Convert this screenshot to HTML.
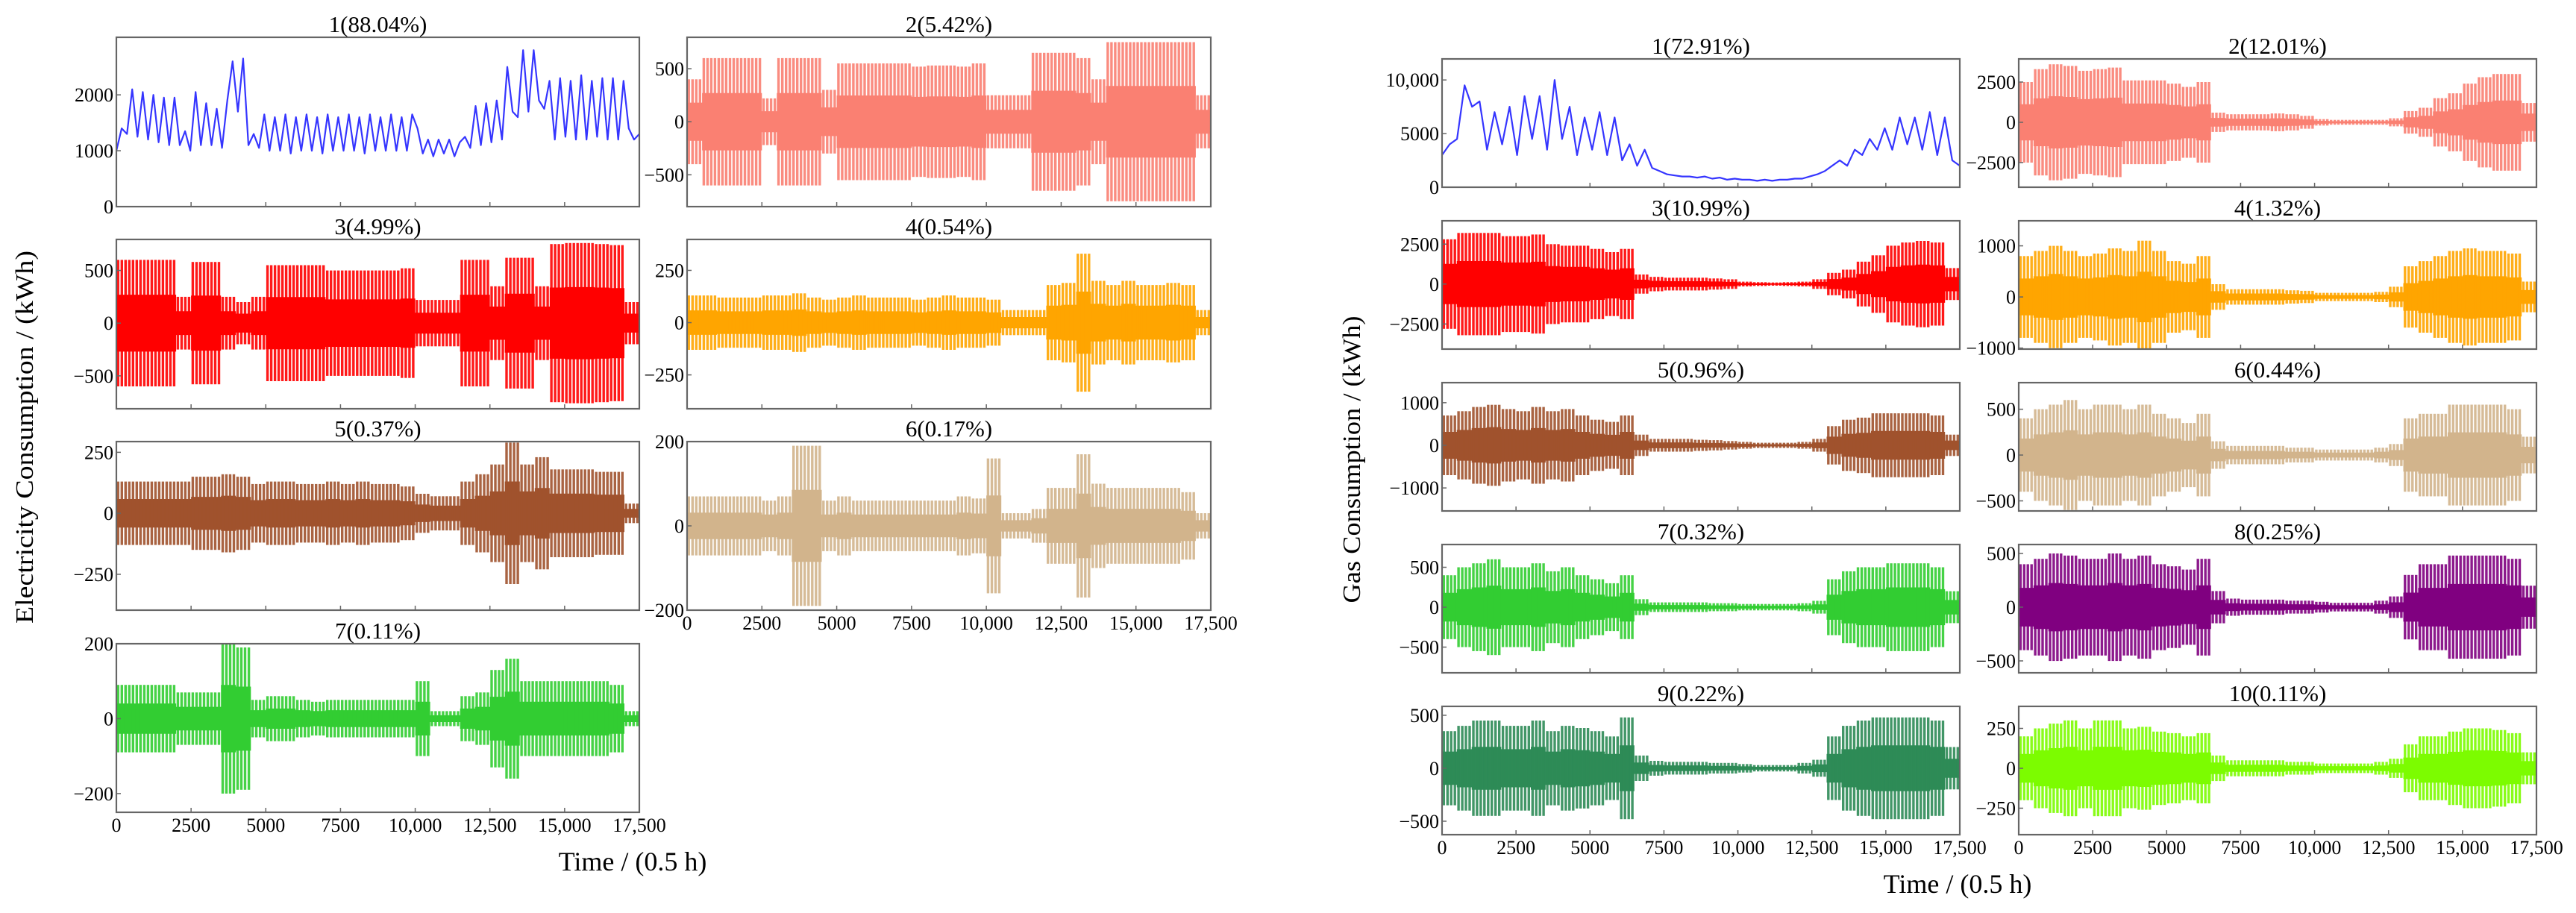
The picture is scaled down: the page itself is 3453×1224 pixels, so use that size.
<!DOCTYPE html>
<html><head><meta charset="utf-8"><title>Decomposition components</title>
<style>
html,body{margin:0;padding:0;background:#fff;}
svg{display:block;font-family:"Liberation Serif",serif;}
</style></head>
<body>
<svg id="fig" width="3453" height="1224" viewBox="0 0 3453 1224" xmlns="http://www.w3.org/2000/svg">
<rect x="0" y="0" width="3453" height="1224" fill="#fff"/>
<text x="0" y="0" transform="translate(44,586) rotate(-90)" text-anchor="middle" font-size="34" textLength="500" lengthAdjust="spacingAndGlyphs">Electricity Consumption / (kWh)</text>
<text x="848" y="1167" text-anchor="middle" font-size="36">Time / (0.5 h)</text>
<text x="0" y="0" transform="translate(1823,616) rotate(-90)" text-anchor="middle" font-size="34" textLength="385" lengthAdjust="spacingAndGlyphs">Gas Consumption / (kWh)</text>
<text x="2624" y="1197" text-anchor="middle" font-size="36">Time / (0.5 h)</text>
<g id="panels"></g>
</svg>
<script>
// ---- data ----
const xTicks = [0, 2500, 5000, 7500, 10000, 12500, 15000, 17500];
const xTickLabels = ["0", "2500", "5000", "7500", "10,000", "12,500", "15,000", "17,500"];
const binWidth = 500;

const elecTrend = [1000,1400,1300,2100,1250,2050,1200,2000,1150,1950,1100,1950,1100,1350,1000,2050,1100,
 1850,1100,1750,1050,1900, 2600,1700,2650, 1100,1300,1050,
 1650,1000,1600,1000,1650,950,1600,1000,1650,1000,1600,950,1650,1000,1600,1000,1650,1000,1600,950,1650,1000,1600,1000,1650,1000,1600,1000,1650,
 1400,950,1200,900,1200,950,1200,900,1150,
 1250,1050,1800,1100,1850,1150,1900, 1200,2500,1700,1600, 2800,1700,2800,1900,1750,
 2250,1200,2300,1250,2250,1200,2350,1200,2250,1250,2300,1200,2300,1200,2250, 1400,1200,1300];
const elec2 = [400,600,600,600,600,220,600,600,600,300,550,550,550,550,550,520,530,530,520,550,250,250,250,650,650,650,600,400,750,750,750,750,750,750,250];
const elec3 = [600,600,600,600,250,580,580,250,200,250,550,550,550,550,500,500,500,500,500,520,220,220,220,600,600,350,620,620,350,750,760,760,750,740,200];
const elec4 = [130,130,120,120,120,130,130,140,120,110,120,130,120,120,120,110,120,130,120,120,110,60,60,60,180,190,330,200,180,200,180,180,190,180,60];
const elec5 = [130,130,130,130,130,150,150,160,150,120,130,130,120,120,130,120,130,120,120,110,80,70,70,130,160,200,290,200,230,180,180,180,170,170,40];
const elec6 = [70,70,70,70,70,60,70,190,190,60,70,60,60,60,60,60,60,60,70,65,160,30,30,40,90,90,170,100,90,90,90,90,90,80,30];
const elec7 = [90,90,90,90,70,70,70,200,190,50,60,60,50,45,50,50,50,50,50,50,100,20,20,60,70,130,160,100,100,100,100,100,100,90,20];

const gasTrend = [3000,4000,4500,9500,7500,8000,3500,7000,4000,7500,
 3000,8500,4500,8500,3500,10000,4500,7500,3000,6500,
 3500,7000,3000,6500,2500,4000,2000,3500,1800,1500,
 1200,1100,1000,1000,900,1000,800,900,700,800,
 700,700,600,700,600,700,700,800,800,1000,
 1200,1500,2000,2500,2000,3500,3000,4500,3500,5500,
 3500,6500,4000,6500,3500,7000,3000,6500,2500,2000];
const gas2 = [2500,3300,3600,3500,3200,3300,3400,2600,2600,2600,2400,2200,2500,600,500,500,500,550,500,400,200,150,150,150,150,250,700,900,1500,1800,2400,2800,3000,3000,1200];
const gas3 = [2800,3200,3200,3200,3000,3000,3100,2500,2400,2400,2200,2000,2200,600,450,400,400,400,350,300,150,120,100,120,150,300,700,900,1400,1800,2400,2600,2700,2600,1000];
const gas4 = [800,900,1000,900,800,850,950,900,1100,900,700,650,800,250,150,150,150,150,130,120,80,80,80,80,100,200,600,700,800,900,950,900,900,850,300];
const gas5 = [700,800,900,950,850,800,900,800,850,700,600,550,700,250,150,150,150,130,120,100,80,60,60,60,80,150,450,600,650,750,750,750,750,700,250];
const gas6 = [400,500,550,600,500,550,550,500,550,450,400,350,450,150,100,100,100,100,80,80,60,60,60,60,80,120,400,450,450,550,550,550,550,500,200];
const gas7 = [400,500,550,600,500,500,550,450,500,400,350,300,400,100,60,60,60,60,50,50,40,40,40,40,50,80,350,450,500,500,550,550,550,500,200];
const gas8 = [400,450,500,480,450,450,500,450,480,400,380,350,450,150,80,70,70,70,60,60,50,40,40,40,60,100,300,400,400,480,480,480,480,450,200];
const gas9 = [350,400,450,450,400,400,450,350,400,380,350,300,480,120,70,60,60,60,50,50,40,30,30,30,50,80,300,400,450,480,480,480,480,450,200];
const gas10 = [200,250,280,300,250,300,300,250,260,230,220,200,220,80,50,50,50,50,40,40,30,30,30,30,40,60,150,200,200,230,250,250,240,220,100];

// ---- layout ----
const panels = [
 {name:"elec-1", title:"1(88.04%)", x0:156,x1:857,y0:50,y1:277, ymin:0,ymax:3030, ticks:[0,1000,2000], labels:["0","1000","2000"], kind:"line", data:elecTrend, color:"#3535ff", xl:false},
 {name:"elec-2", title:"2(5.42%)", x0:921,x1:1623,y0:50,y1:277, ymin:-800,ymax:796, ticks:[-500,0,500], labels:["\u2212500","0","500"], kind:"band", data:elec2, color:"#fa8072", xl:false},
 {name:"elec-3", title:"3(4.99%)", x0:156,x1:857,y0:321,y1:548, ymin:-812,ymax:794, ticks:[-500,0,500], labels:["\u2212500","0","500"], kind:"band", data:elec3, color:"#ff0000", xl:false},
 {name:"elec-4", title:"4(0.54%)", x0:921,x1:1623,y0:321,y1:548, ymin:-412,ymax:398, ticks:[-250,0,250], labels:["\u2212250","0","250"], kind:"band", data:elec4, color:"#ffa500", xl:false},
 {name:"elec-5", title:"5(0.37%)", x0:156,x1:857,y0:592,y1:818, ymin:-397,ymax:294, ticks:[-250,0,250], labels:["\u2212250","0","250"], kind:"band", data:elec5, color:"#a0522d", xl:false},
 {name:"elec-6", title:"6(0.17%)", x0:921,x1:1623,y0:592,y1:818, ymin:-200,ymax:200, ticks:[-200,0,200], labels:["\u2212200","0","200"], kind:"band", data:elec6, color:"#d2b48c", xl:true},
 {name:"elec-7", title:"7(0.11%)", x0:156,x1:857,y0:863,y1:1089, ymin:-250,ymax:200, ticks:[-200,0,200], labels:["\u2212200","0","200"], kind:"band", data:elec7, color:"#32cd32", xl:true},
 {name:"gas-1", title:"1(72.91%)", x0:1933,x1:2627,y0:79,y1:251, ymin:0,ymax:11960, ticks:[0,5000,10000], labels:["0","5000","10,000"], kind:"line", data:gasTrend, color:"#3535ff", xl:false},
 {name:"gas-2", title:"2(12.01%)", x0:2706,x1:3400,y0:79,y1:251, ymin:-4030,ymax:3935, ticks:[-2500,0,2500], labels:["\u22122500","0","2500"], kind:"band", data:gas2, color:"#fa8072", xl:false},
 {name:"gas-3", title:"3(10.99%)", x0:1933,x1:2627,y0:296,y1:468, ymin:-4070,ymax:3960, ticks:[-2500,0,2500], labels:["\u22122500","0","2500"], kind:"band", data:gas3, color:"#ff0000", xl:false},
 {name:"gas-4", title:"4(1.32%)", x0:2706,x1:3400,y0:296,y1:468, ymin:-1020,ymax:1490, ticks:[-1000,0,1000], labels:["\u22121000","0","1000"], kind:"band", data:gas4, color:"#ffa500", xl:false},
 {name:"gas-5", title:"5(0.96%)", x0:1933,x1:2627,y0:513,y1:685, ymin:-1540,ymax:1470, ticks:[-1000,0,1000], labels:["\u22121000","0","1000"], kind:"band", data:gas5, color:"#a0522d", xl:false},
 {name:"gas-6", title:"6(0.44%)", x0:2706,x1:3400,y0:513,y1:685, ymin:-610,ymax:790, ticks:[-500,0,500], labels:["\u2212500","0","500"], kind:"band", data:gas6, color:"#d2b48c", xl:false},
 {name:"gas-7", title:"7(0.32%)", x0:1933,x1:2627,y0:730,y1:902, ymin:-822,ymax:785, ticks:[-500,0,500], labels:["\u2212500","0","500"], kind:"band", data:gas7, color:"#32cd32", xl:false},
 {name:"gas-8", title:"8(0.25%)", x0:2706,x1:3400,y0:730,y1:902, ymin:-611,ymax:583, ticks:[-500,0,500], labels:["\u2212500","0","500"], kind:"band", data:gas8, color:"#800080", xl:false},
 {name:"gas-9", title:"9(0.22%)", x0:1933,x1:2627,y0:947,y1:1119, ymin:-627,ymax:584, ticks:[-500,0,500], labels:["\u2212500","0","500"], kind:"band", data:gas9, color:"#2e8b57", xl:true},
 {name:"gas-10", title:"10(0.11%)", x0:2706,x1:3400,y0:947,y1:1119, ymin:-416,ymax:388, ticks:[-250,0,250], labels:["\u2212250","0","250"], kind:"band", data:gas10, color:"#7cfc00", xl:true}
];

const NS = "http://www.w3.org/2000/svg";
const root = document.getElementById("panels");
function mk(tag, attrs, parent){
  const e = document.createElementNS(NS, tag);
  for (const k in attrs) e.setAttribute(k, attrs[k]);
  parent.appendChild(e);
  return e;
}
const XMAX = 17500;

panels.forEach(p => {
  const g = mk("g", {}, root);
  
  
  const xs = v => p.x0 + (v / XMAX) * (p.x1 - p.x0);
  const ys = v => p.y1 - (v - p.ymin) / (p.ymax - p.ymin) * (p.y1 - p.y0);
  const clipId = "clip-" + p.name;
  const cp = mk("clipPath", {id: clipId}, g);
  mk("rect", {x:p.x0, y:p.y0, width:p.x1-p.x0, height:p.y1-p.y0}, cp);
  const dg = mk("g", {"clip-path":"url(#"+clipId+")"}, g);

  if (p.kind === "line") {
    const n = p.data.length;
    const pts = p.data.map((v,i) => xs(i * XMAX / (n-1)).toFixed(1) + "," + ys(v).toFixed(1)).join(" ");
    const pl = mk("polyline", {points: pts, fill:"none", stroke:p.color, "stroke-width":2.2, "stroke-linejoin":"round"}, dg);
    
    
  } else {
    let top = [], bot = [];
    p.data.forEach((a,i) => {
      const xa = xs(i*binWidth), xb = xs((i+1)*binWidth);
      top.push(xa.toFixed(1)+","+ys(a*0.45).toFixed(1), xb.toFixed(1)+","+ys(a*0.45).toFixed(1));
      bot.unshift(xb.toFixed(1)+","+ys(-a*0.45).toFixed(1), xa.toFixed(1)+","+ys(-a*0.45).toFixed(1));
    });
    const core = mk("polygon", {points: top.concat(bot).join(" "), fill:p.color}, dg);
    
    
    p.data.forEach((a,i) => {
      const xa = xs(i*binWidth), xb = xs((i+1)*binWidth);
      const w = xb - xa;
      for (let k = 0; k < 4; k++) {
        const bx = xa + w*(k/4) + w*0.03;
        const r = mk("rect", {x:bx.toFixed(1), y:ys(a).toFixed(1), width:(w*0.17).toFixed(1), height:(ys(-a)-ys(a)).toFixed(1), fill:p.color, opacity:0.9}, dg);
        
        
      }
    });
  }
  const fr = mk("rect", {x:p.x0, y:p.y0, width:p.x1-p.x0, height:p.y1-p.y0, fill:"none", stroke:"#666", "stroke-width":2.2}, g);
  
  
  const t = mk("text", {x:(p.x0+p.x1)/2, y:p.y0-7, "text-anchor":"middle", "font-size":31}, g);
  t.textContent = p.title;
  
  
  p.ticks.forEach((v,i) => {
    const y = ys(v);
    mk("line", {x1:p.x0, x2:p.x0+6, y1:y, y2:y, stroke:"#666", "stroke-width":1.5}, g);
    const lb = mk("text", {x:p.x0-4, y:y+9, "text-anchor":"end", "font-size":26}, g);
    lb.textContent = p.labels[i];
    
    
  });
  xTicks.forEach((v,i) => {
    const x = xs(v);
    mk("line", {x1:x, x2:x, y1:p.y1, y2:p.y1-6, stroke:"#666", "stroke-width":1.5}, g);
    if (p.xl) {
      const lb = mk("text", {x:x, y:p.y1+26, "text-anchor":"middle", "font-size":26}, g);
      lb.textContent = xTickLabels[i];
      
      
    }
  });
});
</script>
</body></html>
